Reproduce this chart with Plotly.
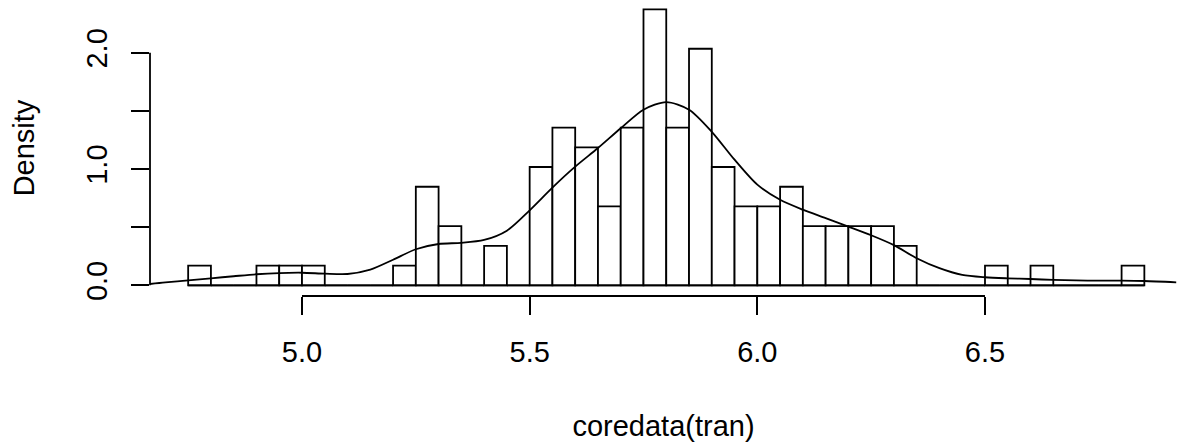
import plotly.graph_objects as go

# Histogram: bin edges every 0.05 from 4.75 to 6.85, counts per bin (n = 118)
bin_start = 4.75
bin_width = 0.05
counts = [1, 0, 0, 1, 1, 1, 0, 0, 0, 1, 5, 3, 0, 2, 0, 6, 8, 7, 4, 8, 14, 8,
          12, 6, 4, 4, 5, 3, 3, 3, 3, 2, 0, 0, 0, 1, 0, 1, 0, 0, 0, 1]

# Kernel density curve
dens_x = [4.666, 4.70, 4.75, 4.80, 4.85, 4.90, 4.95, 5.00, 5.05, 5.10, 5.15, 5.20,
          5.25, 5.30, 5.35, 5.40, 5.45, 5.50, 5.55, 5.60, 5.65, 5.70, 5.75, 5.80,
          5.85, 5.90, 5.95, 6.00, 6.05, 6.10, 6.15, 6.20, 6.25, 6.30, 6.35, 6.40,
          6.45, 6.50, 6.55, 6.60, 6.65, 6.70, 6.75, 6.80, 6.85, 6.92]
dens_y = [0.011, 0.025, 0.042, 0.060, 0.078, 0.095, 0.105, 0.108, 0.100, 0.097, 0.135, 0.220,
          0.310, 0.355, 0.365, 0.390, 0.470, 0.645, 0.840, 1.020, 1.180, 1.350, 1.510, 1.575,
          1.510, 1.320, 1.080, 0.865, 0.735, 0.650, 0.578, 0.505, 0.430, 0.345, 0.233, 0.147,
          0.089, 0.069, 0.060, 0.054, 0.046, 0.042, 0.040, 0.040, 0.037, 0.026]

x_ticks = [5.0, 5.5, 6.0, 6.5]
x_ticklabels = ["5.0", "5.5", "6.0", "6.5"]
y_ticks = [0.0, 0.5, 1.0, 1.5, 2.0]
y_ticklabels = ["0.0", "", "1.0", "", "2.0"]

n = sum(counts)
centers = [bin_start + bin_width * (i + 0.5) for i in range(len(counts))]
density = [c / (n * bin_width) for c in counts]
edges = [bin_start, bin_start + bin_width * len(counts)]

LW = 1.8
FONT = "Liberation Sans, Arial, Helvetica, sans-serif"
FS = 29

fig = go.Figure()
# baseline of the histogram (zero-height bins drawn as a line, as in R)
fig.add_trace(go.Scatter(x=edges, y=[0, 0], mode="lines",
                         line=dict(color="black", width=LW), hoverinfo="skip",
                         showlegend=False))
fig.add_trace(go.Bar(x=centers, y=density, width=bin_width,
                     marker=dict(color="white", line=dict(color="black", width=LW)),
                     showlegend=False))
fig.add_trace(go.Scatter(x=dens_x, y=dens_y, mode="lines",
                         line=dict(color="black", width=LW, shape="spline", smoothing=0.8),
                         showlegend=False))

# R-style axis lines spanning first to last tick
fig.add_shape(type="line", xref="x", yref="paper", x0=x_ticks[0], x1=x_ticks[-1],
              y0=0, y1=0, line=dict(color="black", width=LW))
fig.add_shape(type="line", xref="paper", yref="y", x0=0, x1=0,
              y0=y_ticks[0], y1=y_ticks[-1], line=dict(color="black", width=LW))

fig.update_layout(
    width=1177, height=442,
    margin=dict(l=150, r=0, t=0, b=146),
    paper_bgcolor="white", plot_bgcolor="white",
    bargap=0,
    hovermode=False,
    font=dict(family=FONT, size=FS, color="black"),
    xaxis=dict(range=[4.6662, 6.9217], showgrid=False, zeroline=False, showline=False,
               automargin=False,
               tickmode="array", tickvals=x_ticks, ticktext=x_ticklabels,
               ticks="outside", ticklen=18, tickwidth=LW, tickcolor="black",
               ticklabelstandoff=12,
               tickfont=dict(family=FONT, size=FS),
               title=dict(text="coredata(tran)", font=dict(family=FONT, size=FS), standoff=56)),
    yaxis=dict(range=[-0.092, 2.453], showgrid=False, zeroline=False, showline=False,
               automargin=False,
               tickmode="array", tickvals=y_ticks, ticktext=y_ticklabels,
               ticks="outside", ticklen=18, tickwidth=LW, tickcolor="black",
               tickangle=-90, ticklabelstandoff=12,
               tickfont=dict(family=FONT, size=FS),
               title=dict(text="Density", font=dict(family=FONT, size=FS), standoff=38)),
)

fig.write_html("out.html",
               config={"displayModeBar": False, "staticPlot": True},
               post_script="document.body.style.margin='0';document.body.style.overflow='hidden';")
